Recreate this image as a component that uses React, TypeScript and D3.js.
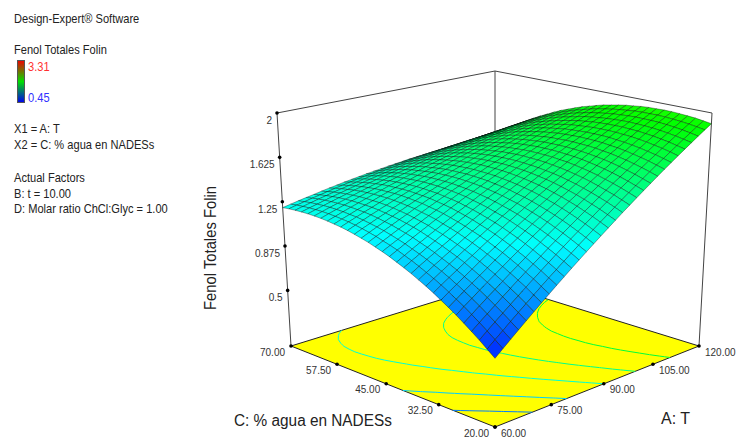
import React from "react";
import * as d3 from "d3";

const W = 736;
const H = 437;

const aTicks = [60, 75, 90, 105, 120];
const cTicks = [20, 32.5, 45, 57.5, 70];
const zTicks = [0.5, 0.875, 1.25, 1.625, 2];
const contourLevels = [0.8, 1.03, 1.28, 1.49, 1.72];
const infoLines = [
  ["Design-Expert® Software", 23],
  ["Fenol Totales Folin", 54],
  ["X1 = A: T", 133],
  ["X2 = C: % agua en NADESs", 149],
  ["Actual Factors", 182],
  ["B: t = 10.00", 198],
  ["D: Molar ratio ChCl:Glyc = 1.00", 213],
];

// response in thousandths: one row per A station (60 -> 120), one column per C station (20 -> 70)
const surfaceMilli = [
  [550,599,647,692,736,778,818,855,892,926,957,988,1016,1042,1068,1090,1110,1130,1146,1161,1175,1186,1194,1202,1208,1211,1213,1212,1210,1206,1200],
  [602,650,696,740,783,824,862,898,934,966,996,1026,1053,1077,1102,1123,1141,1160,1175,1189,1201,1211,1218,1224,1229,1231,1231,1229,1226,1221,1213],
  [653,699,745,787,829,868,906,940,974,1006,1034,1063,1088,1111,1135,1154,1172,1189,1203,1215,1226,1235,1240,1246,1249,1250,1249,1245,1241,1234,1226],
  [704,749,793,834,875,913,949,982,1015,1045,1072,1099,1124,1146,1168,1186,1202,1218,1230,1242,1252,1259,1263,1267,1269,1268,1266,1262,1256,1248,1238],
  [754,798,841,881,919,956,991,1023,1055,1084,1109,1135,1158,1179,1200,1217,1232,1246,1257,1267,1276,1282,1285,1287,1288,1286,1283,1277,1270,1260,1249],
  [804,847,888,927,964,1000,1033,1064,1094,1122,1147,1171,1193,1212,1232,1247,1261,1274,1284,1293,1300,1305,1306,1308,1307,1304,1299,1292,1284,1273,1261],
  [854,895,936,973,1009,1043,1076,1105,1134,1160,1184,1207,1227,1245,1264,1278,1290,1303,1311,1318,1324,1328,1328,1328,1326,1322,1316,1307,1297,1286,1272],
  [903,943,982,1018,1053,1086,1117,1145,1173,1198,1220,1242,1261,1278,1295,1308,1319,1330,1337,1343,1348,1350,1348,1347,1344,1338,1331,1321,1310,1297,1282],
  [952,991,1028,1063,1097,1128,1158,1185,1212,1235,1256,1277,1294,1310,1326,1337,1347,1357,1362,1367,1371,1371,1369,1367,1363,1355,1347,1336,1323,1309,1293],
  [1000,1037,1074,1107,1140,1170,1198,1224,1249,1272,1291,1310,1327,1341,1356,1366,1374,1383,1387,1391,1393,1392,1389,1385,1380,1371,1361,1349,1335,1320,1302],
  [1048,1084,1119,1151,1182,1212,1239,1263,1287,1308,1326,1344,1359,1372,1386,1395,1402,1409,1412,1414,1415,1413,1408,1404,1397,1387,1376,1362,1347,1330,1311],
  [1095,1130,1164,1194,1224,1252,1278,1301,1324,1343,1360,1377,1391,1403,1414,1422,1428,1434,1436,1437,1436,1433,1427,1421,1413,1402,1389,1374,1358,1340,1320],
  [1142,1176,1208,1238,1266,1293,1317,1339,1360,1379,1394,1410,1422,1433,1443,1450,1455,1459,1460,1459,1458,1453,1446,1438,1429,1416,1403,1386,1369,1349,1328],
  [1188,1220,1251,1280,1307,1332,1355,1376,1396,1413,1427,1442,1453,1462,1471,1477,1480,1483,1482,1481,1478,1472,1463,1455,1444,1430,1415,1398,1379,1358,1335],
  [1234,1265,1295,1322,1348,1372,1394,1413,1432,1448,1461,1473,1483,1491,1499,1503,1505,1507,1505,1502,1498,1491,1481,1471,1459,1444,1428,1409,1389,1367,1343],
  [1280,1310,1338,1364,1389,1411,1432,1450,1467,1482,1494,1505,1514,1521,1527,1530,1531,1531,1528,1524,1518,1510,1499,1487,1474,1458,1440,1420,1399,1375,1350],
  [1325,1353,1381,1405,1429,1450,1469,1486,1502,1515,1526,1536,1544,1549,1554,1556,1555,1554,1550,1544,1538,1528,1515,1503,1488,1470,1452,1430,1408,1383,1356],
  [1370,1397,1423,1446,1468,1488,1507,1522,1537,1549,1558,1567,1573,1577,1581,1581,1579,1577,1572,1565,1557,1546,1532,1518,1502,1483,1463,1440,1416,1391,1363],
  [1414,1440,1465,1486,1507,1526,1543,1557,1570,1581,1589,1597,1602,1604,1607,1606,1603,1600,1592,1584,1575,1563,1548,1532,1515,1495,1474,1450,1424,1397,1368],
  [1458,1483,1506,1527,1546,1564,1579,1592,1604,1614,1620,1627,1630,1632,1633,1631,1626,1622,1613,1604,1593,1580,1563,1547,1528,1507,1484,1459,1432,1404,1373],
  [1501,1524,1546,1566,1584,1600,1614,1626,1637,1645,1650,1655,1658,1658,1658,1654,1649,1643,1633,1622,1610,1596,1578,1560,1540,1517,1494,1467,1439,1409,1378],
  [1544,1566,1587,1605,1622,1637,1650,1660,1669,1676,1680,1684,1685,1684,1683,1678,1671,1664,1653,1641,1628,1612,1592,1573,1552,1528,1503,1475,1446,1415,1382],
  [1587,1608,1627,1644,1660,1673,1685,1693,1702,1708,1710,1713,1713,1710,1708,1702,1693,1685,1673,1659,1645,1627,1607,1587,1564,1539,1513,1483,1453,1421,1386],
  [1629,1648,1667,1682,1696,1709,1719,1726,1734,1738,1740,1741,1739,1736,1732,1724,1715,1705,1691,1677,1661,1642,1621,1599,1575,1549,1521,1491,1459,1425,1390],
  [1670,1688,1705,1719,1732,1743,1752,1758,1765,1768,1768,1768,1765,1760,1755,1746,1735,1724,1709,1693,1676,1656,1633,1610,1586,1558,1529,1497,1464,1429,1392],
  [1711,1728,1744,1756,1768,1778,1786,1790,1795,1797,1796,1795,1790,1784,1778,1768,1755,1743,1727,1710,1691,1670,1646,1622,1596,1566,1536,1503,1469,1432,1394],
  [1752,1767,1782,1793,1804,1812,1819,1822,1826,1826,1824,1821,1816,1808,1801,1789,1776,1762,1745,1726,1707,1684,1659,1633,1606,1575,1544,1509,1474,1436,1397],
  [1792,1806,1819,1830,1839,1846,1851,1853,1856,1855,1851,1847,1840,1832,1823,1810,1795,1780,1762,1742,1721,1697,1670,1644,1615,1583,1550,1514,1478,1439,1398],
  [1832,1845,1857,1866,1874,1880,1883,1884,1885,1883,1878,1873,1865,1855,1845,1831,1815,1798,1778,1757,1735,1710,1682,1654,1624,1591,1557,1520,1481,1441,1399],
  [1871,1883,1893,1901,1907,1912,1915,1914,1914,1911,1904,1898,1888,1877,1866,1850,1833,1816,1794,1772,1748,1722,1693,1663,1632,1597,1562,1524,1484,1443,1400],
  [1910,1920,1930,1936,1941,1945,1946,1944,1943,1938,1930,1923,1912,1899,1887,1870,1851,1833,1810,1786,1762,1734,1703,1673,1640,1604,1568,1528,1487,1445,1400],
];
const surface = surfaceMilli.map((row) => row.map((v) => v / 1000));

type Pt = [number, number];

// corners in order: A low/C low, A high/C low, A high/C high, A low/C high
const floorCorners: Pt[] = [[495, 427], [699, 346], [495, 283], [291, 346]];
const roofCorners: Pt[] = [[495, 167], [712, 113], [495, 71], [277, 113]];

// unit square -> quad, projective
const quadMap = (q: Pt[]) => {
  const [[x0, y0], [x1, y1], [x2, y2], [x3, y3]] = q;
  const sx = x0 - x1 + x2 - x3;
  const sy = y0 - y1 + y2 - y3;
  const dx1 = x1 - x2;
  const dx2 = x3 - x2;
  const dy1 = y1 - y2;
  const dy2 = y3 - y2;
  const den = dx1 * dy2 - dx2 * dy1;
  const g = (sx * dy2 - dx2 * sy) / den;
  const h = (dx1 * sy - sx * dy1) / den;
  return (u: number, v: number): Pt => {
    const w = g * u + h * v + 1;
    return [
      (x1 - x0 + g * x1) * u / w + (x3 - x0 + h * x3) * v / w + x0 / w,
      (y1 - y0 + g * y1) * u / w + (y3 - y0 + h * y3) * v / w + y0 / w,
    ];
  };
};

const floorAt = quadMap(floorCorners);
const roofAt = quadMap(roofCorners);

const aScale = d3.scaleLinear().domain([60, 120]).range([0, 1]);
const cScale = d3.scaleLinear().domain([20, 70]).range([0, 1]);
const zScale = d3.scaleLinear().domain([0.03, 2]).range([0, 1]);

const colorScale = d3
  .scaleLinear<string>()
  .domain([0.45, 1.165, 1.88, 2.595, 3.31])
  .range(["#0000ff", "#00ffff", "#00ff00", "#ffff00", "#ff0000"]);

const project = (u: number, v: number, z: number): Pt => {
  const b = floorAt(u, v);
  const t = roofAt(u, v);
  const k = zScale(z);
  return [b[0] + (t[0] - b[0]) * k, b[1] + (t[1] - b[1]) * k];
};

const line = d3.line();
const nRows = surface.length;
const nCols = surface[0].length;

const cells: { key: string; d: string; fill: string; depth: number }[] = [];
for (let i = 0; i < nRows - 1; i++) {
  for (let j = 0; j < nCols - 1; j++) {
    const zs = [surface[i][j], surface[i + 1][j], surface[i + 1][j + 1], surface[i][j + 1]];
    const u0 = i / (nRows - 1);
    const u1 = (i + 1) / (nRows - 1);
    const v0 = j / (nCols - 1);
    const v1 = (j + 1) / (nCols - 1);
    cells.push({
      key: `${i}-${j}`,
      d: line([project(u0, v0, zs[0]), project(u1, v0, zs[1]), project(u1, v1, zs[2]), project(u0, v1, zs[3])]) + "Z",
      fill: colorScale(d3.mean(zs) as number),
      depth: i + j,
    });
  }
}
cells.sort((a, b) => b.depth - a.depth);

// floor contours, dropping the parts of each ring that run along the grid border
const contourLine = d3
  .line<number[]>()
  .defined((p) => p[0] >= 0.5 && p[0] <= nCols - 0.5 && p[1] >= 0.5 && p[1] <= nRows - 0.5)
  .x((p) => floorAt((p[1] - 0.5) / (nRows - 1), (p[0] - 0.5) / (nCols - 1))[0])
  .y((p) => floorAt((p[1] - 0.5) / (nRows - 1), (p[0] - 0.5) / (nCols - 1))[1]);

const contourPaths = d3
  .contours()
  .size([nCols, nRows])
  .thresholds(contourLevels)(surface.flat())
  .map((c) => ({
    level: c.value,
    d: c.coordinates.flatMap((poly) => poly.map((ring) => contourLine(ring))).join(""),
  }));

const textFont = "'Liberation Sans', Arial, sans-serif";

// the reference's text is set narrower than the installed font, so squeeze it horizontally
const Label = ({ x, y, squeeze = 0.925, size = 12, anchor = "start", fill = "#222", children }: any) => (
  <text
    transform={`translate(${x},${y}) scale(${squeeze},1)`}
    fontSize={size}
    textAnchor={anchor}
    fill={fill}
  >
    {children}
  </text>
);

export default function App() {
  const floor = line(floorCorners) + "Z";
  return (
    <svg width={W} height={H} style={{ position: "absolute", left: 0, top: 0, background: "#fff" }} fontFamily={textFont}>
      <defs>
        <linearGradient id="legendRamp" x1="0" y1="0" x2="0" y2="1">
          <stop offset="0" stopColor="#f00000" />
          <stop offset="0.5" stopColor="#00e000" />
          <stop offset="1" stopColor="#0000f0" />
        </linearGradient>
      </defs>

      {infoLines.map(([t, y]) => (
        <Label key={t as string} x={14} y={y}>{t}</Label>
      ))}
      <rect x={17.5} y={60.5} width={7} height={42} fill="url(#legendRamp)" stroke="#555" />
      <Label x={28} y={71} fill="#ff3030">3.31</Label>
      <Label x={28} y={102} fill="#3030ff">0.45</Label>

      <path d={floor} fill="#ffff00" stroke="#222" />
      {contourPaths.map((c) => (
        <path key={c.level} d={c.d} fill="none" stroke={colorScale(c.level)} strokeWidth={1} />
      ))}

      <g stroke="#444" fill="none">
        <path d={line([roofCorners[3], roofCorners[2], roofCorners[1]]) as string} />
        <path d={line([floorCorners[2], roofCorners[2]]) as string} />
        <path d={line([floorCorners[3], roofCorners[3]]) as string} />
        <path d={line([floorCorners[1], roofCorners[1]]) as string} />
      </g>

      {cells.map((c) => (
        <path key={c.key} d={c.d} fill={c.fill} stroke="#000" strokeOpacity={0.5} strokeWidth={0.7} />
      ))}

      {zTicks.map((z) => {
        const [x, y] = project(0, 1, z);
        return (
          <g key={z}>
            <circle cx={x} cy={y} r={1.8} fill="#000" />
            <Label x={x - 5} y={y + 11} size={11} squeeze={0.91} anchor="end" fill="#333">{z}</Label>
          </g>
        );
      })}
      {aTicks.map((a) => {
        const [x, y] = floorAt(aScale(a), 0);
        return (
          <g key={a}>
            <circle cx={x} cy={y} r={1.8} fill="#000" />
            <Label x={x + 6} y={y + 9.5} size={11} squeeze={0.91} fill="#333">{a.toFixed(2)}</Label>
          </g>
        );
      })}
      {cTicks.map((c) => {
        const [x, y] = floorAt(0, cScale(c));
        return (
          <g key={c}>
            <circle cx={x} cy={y} r={1.8} fill="#000" />
            <Label x={x - 6} y={y + 9.5} size={11} squeeze={0.91} anchor="end" fill="#333">{c.toFixed(2)}</Label>
          </g>
        );
      })}

      <text transform="translate(216,248) rotate(-90) scale(0.925,1)" textAnchor="middle" fontSize={16} fill="#222">
        Fenol Totales Folin
      </text>
      <Label x={234} y={426} size={16} squeeze={0.96}>C: % agua en NADESs</Label>
      <Label x={661} y={424} size={16} squeeze={1}>A: T</Label>
    </svg>
  );
}
